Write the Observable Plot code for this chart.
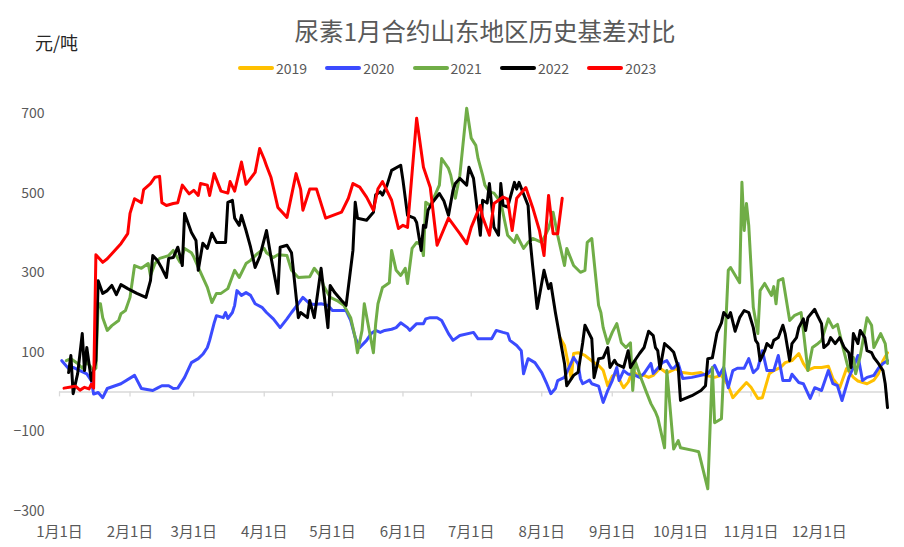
<!DOCTYPE html>
<html><head><meta charset="utf-8">
<script src="https://cdn.jsdelivr.net/npm/d3@7"></script>
<script src="https://cdn.jsdelivr.net/npm/@observablehq/plot@0.6"></script>
<style>
body{margin:0;background:#fff;}
#wrap{position:relative;width:904px;height:547px;font-family:"Noto Sans CJK SC","Noto Sans",sans-serif;overflow:hidden;}
#wrap svg{position:absolute;left:0;top:0;}
#title{position:absolute;left:485px;top:18px;transform:translateX(-50%);white-space:nowrap;font-size:24.5px;line-height:26px;color:#595959;}
#unit{position:absolute;left:35px;top:33px;font-size:18px;line-height:18px;color:#262626;}
#legend{position:absolute;left:238px;top:60px;display:flex;}
.item{display:flex;align-items:center;width:87.3px;height:16px;}
.sw{width:36px;height:4px;border-radius:2px;margin-right:2px;}
.lt{font-size:14px;line-height:16px;color:#595959;}
</style></head>
<body>
<div id="wrap">
  <div id="title">尿素1月合约山东地区历史基差对比</div>
  <div id="unit">元/吨</div>
  <div id="legend"></div>
</div>
<script>
const years = ["2019", "2020", "2021", "2022", "2023"];
const colors = ["#FFC000", "#3B4BFF", "#70AD47", "#000000", "#FF0000"];
const monthLabels = ["1月1日","2月1日","3月1日","4月1日","5月1日","6月1日","7月1日","8月1日","9月1日","10月1日","11月1日","12月1日"];
const yTicks = [-300, -100, 100, 300, 500, 700];

// day of year (0 = Jan 1) and basis values (元/吨)
const days2019 = [220,222,225,226,228,231,235,237,239,241,243,245,247,248,250,252,254,257,259,261,264,267,271,273,278,282,284,288,291,294,296,299,302,304,307,309,312,314,317,319,322,325,327,329,332,335,338,340,343,346,349,351,355,358,360,362,364];
const basis2019 = [137,117,34,97,99,92,74,67,55,16,40,46,21,11,25,54,42,42,37,42,60,48,59,50,46,49,42,37,42,16,-14,5,24,12,-16,-14,46,54,62,74,79,97,72,55,62,62,65,34,11,59,37,28,21,30,46,79,99];

const days2020 = [1,4,6,9,12,14,15,17,19,21,27,33,36,41,43,45,48,50,52,55,58,61,63,65,66,68,69,72,73,74,76,77,78,80,82,84,86,89,91,94,97,100,102,105,107,110,112,115,118,120,126,128,130,132,135,137,139,141,143,146,148,150,153,154,157,160,161,163,166,168,171,173,176,182,184,190,192,195,197,198,201,203,204,206,209,212,214,216,218,219,222,225,226,228,229,230,233,234,237,239,241,243,245,246,248,250,252,255,257,260,261,263,265,267,269,270,272,274,278,285,288,290,292,294,296,298,301,303,305,307,309,311,314,316,318,321,322,325,327,330,332,335,338,340,342,344,347,349,351,353,355,358,360,362,364];
const basis2020 = [79,59,62,54,46,29,-5,-1,-14,9,21,42,9,4,10,16,16,9,10,37,74,84,95,112,130,174,192,187,200,185,200,218,255,243,250,243,222,213,200,184,162,184,200,222,238,222,220,222,218,205,205,180,137,112,130,147,155,150,155,158,162,174,162,155,172,172,184,187,187,180,147,130,142,150,134,134,155,150,147,130,117,104,46,84,74,49,24,-4,9,29,37,74,87,70,34,21,30,21,15,-26,4,29,62,29,54,45,45,37,47,72,47,60,74,79,60,60,72,34,37,46,67,42,62,11,54,60,60,84,49,60,104,54,54,92,29,29,45,24,21,-16,11,4,54,21,16,-21,37,62,92,29,37,42,60,72,79];

const days2021 = [3,5,8,10,12,15,16,17,18,19,21,23,26,27,29,31,33,36,39,40,42,44,48,50,53,55,58,59,62,65,67,69,71,74,77,79,82,84,87,90,91,94,96,100,102,105,110,112,115,116,119,122,125,128,130,131,133,134,136,138,139,140,142,145,146,148,150,152,153,155,157,159,160,161,163,165,167,168,171,172,174,176,179,181,183,184,186,187,189,191,194,197,200,201,204,206,208,212,215,217,219,222,223,226,229,231,232,234,237,238,239,241,243,245,247,249,251,252,253,256,258,260,262,263,266,267,270,272,273,279,281,285,287,288,291,294,295,299,300,301,302,303,305,307,308,310,313,314,315,316,318,321,323,326,327,329,331,333,335,338,340,342,344,347,349,350,352,355,357,358,361,363,364];
const basis2021 = [79,84,72,60,75,55,60,222,222,187,155,167,180,197,205,238,318,311,323,293,323,336,343,356,326,361,350,340,301,263,225,248,248,260,306,288,323,331,348,361,350,338,345,343,306,288,290,311,290,268,238,230,218,187,137,99,155,222,160,99,172,222,263,275,356,306,293,311,273,361,376,370,343,477,469,494,520,587,562,545,487,545,713,638,620,587,545,520,503,500,477,394,376,394,361,376,386,376,411,452,394,318,361,318,301,306,376,386,218,200,162,122,150,172,124,112,124,4,79,30,0,-29,-50,-64,-140,54,-143,-122,-140,-147,-150,-243,62,-77,-67,306,313,275,527,406,474,419,213,147,255,273,243,265,222,280,285,180,192,200,155,54,112,120,130,184,162,170,122,54,87,46,90,187,168,112,147,122,72];

const days2022 = [4,5,6,8,10,11,12,14,15,16,17,19,21,23,25,27,30,34,38,40,41,43,45,47,48,50,52,54,55,58,60,61,63,65,67,69,73,74,76,77,79,80,82,84,86,88,91,93,96,97,100,102,105,106,109,110,112,115,118,119,121,124,126,129,130,131,135,138,139,141,142,144,146,150,151,153,156,157,159,160,161,162,164,167,169,171,173,174,176,179,180,182,185,186,188,189,191,193,194,195,197,200,201,202,206,207,208,210,213,215,216,218,222,223,226,228,230,231,234,235,237,239,241,242,244,245,248,250,251,253,255,257,259,261,262,263,264,266,268,270,272,273,278,282,284,285,287,289,291,292,294,295,297,299,301,303,305,306,307,308,310,311,313,314,316,318,319,321,322,324,325,327,328,329,332,333,335,336,338,339,341,343,345,347,348,349,351,352,354,355,357,358,360,362,363,364];
const basis2022 = [49,92,-4,47,147,54,112,29,54,79,280,248,255,268,245,270,260,248,238,280,343,331,311,288,336,338,364,318,449,401,381,306,374,361,399,376,376,477,482,437,419,444,406,364,313,340,406,338,248,364,369,350,187,200,187,230,187,311,162,268,250,230,218,356,477,437,432,452,496,503,495,520,557,570,532,444,437,426,356,419,414,457,477,499,480,444,507,524,537,520,565,537,394,482,475,524,414,394,524,469,465,527,510,527,469,376,318,210,306,260,273,200,72,16,42,50,124,168,134,36,84,86,112,62,80,70,62,104,62,80,97,112,153,142,112,104,59,122,112,100,62,-21,-9,4,16,84,86,148,174,200,187,200,153,187,205,200,162,130,122,79,104,122,112,130,137,168,147,79,122,137,162,184,155,187,208,195,172,112,122,137,122,137,112,99,62,147,122,155,137,104,99,87,72,54,21,-39];

const days2023 = [2,5,7,9,11,13,14,15,16,19,21,27,30,31,33,36,37,40,42,44,45,47,50,52,54,57,59,61,62,65,66,68,71,74,75,77,80,82,86,88,90,91,93,96,100,104,106,107,110,113,117,124,127,129,132,135,138,140,142,146,149,151,153,157,160,163,166,171,176,179,181,185,186,189,191,195,197,199,201,205,208,211,213,215,217,219,221];
const basis2023 = [10,13,15,5,12,8,20,10,345,326,335,373,398,449,486,476,509,524,540,542,476,469,474,476,520,498,507,494,524,520,494,549,505,500,529,505,578,522,552,612,585,569,539,464,439,549,510,457,510,510,437,452,487,524,515,490,457,511,529,482,411,419,414,688,565,514,369,437,398,373,414,469,440,394,474,490,485,406,487,514,464,406,343,494,398,398,487];

const dayLists = [days2019, days2020, days2021, days2022, days2023];
const valueLists = [basis2019, basis2020, basis2021, basis2022, basis2023];

const toDate = d => new Date(Date.UTC(2023, 0, 1 + d));
const rows = years.flatMap((y, k) => dayLists[k].map((d, i) => ({year: y, date: toDate(d), value: valueLists[k][i]})));

const start = new Date(Date.UTC(2023, 0, 1));
const end = new Date(Date.UTC(2023, 11, 31));
const monthTicks = d3.utcMonths(start, new Date(Date.UTC(2024, 0, 1)));

const chart = Plot.plot({
  width: 904,
  height: 547,
  marginTop: 113,
  marginBottom: 36,
  marginLeft: 59,
  marginRight: 17,
  style: {fontFamily: '"Noto Sans CJK SC","Noto Sans",sans-serif', color: "#595959", background: "transparent"},
  x: {type: "utc", domain: [start, end]},
  y: {domain: [-300, 700]},
  color: {domain: years, range: colors},
  marks: [
    Plot.ruleY([0], {stroke: "#d9d9d9", strokeWidth: 1.5}),
    Plot.ruleX([...monthTicks, end], {y1: 0, y2: -12, stroke: "#d9d9d9", strokeWidth: 1.3}),
    Plot.axisY({ticks: yTicks, tickSize: 0, tickPadding: 15, fontSize: 14, label: null}),
    Plot.axisX({ticks: monthTicks, tickSize: 0, tickPadding: 15, fontSize: 15, label: null,
      tickFormat: (d) => monthLabels[d.getUTCMonth()]}),
    Plot.line(rows, {x: "date", y: "value", z: "year", stroke: "year", strokeWidth: 3, strokeLinejoin: "round", strokeLinecap: "round"})
  ]
});
document.getElementById("wrap").prepend(chart);

const legend = document.getElementById("legend");
years.forEach((y, i) => {
  const it = document.createElement("div");
  it.className = "item";
  it.innerHTML = `<div class="sw" style="background:${colors[i]}"></div><span class="lt">${y}</span>`;
  legend.appendChild(it);
});
</script>
</body></html>
